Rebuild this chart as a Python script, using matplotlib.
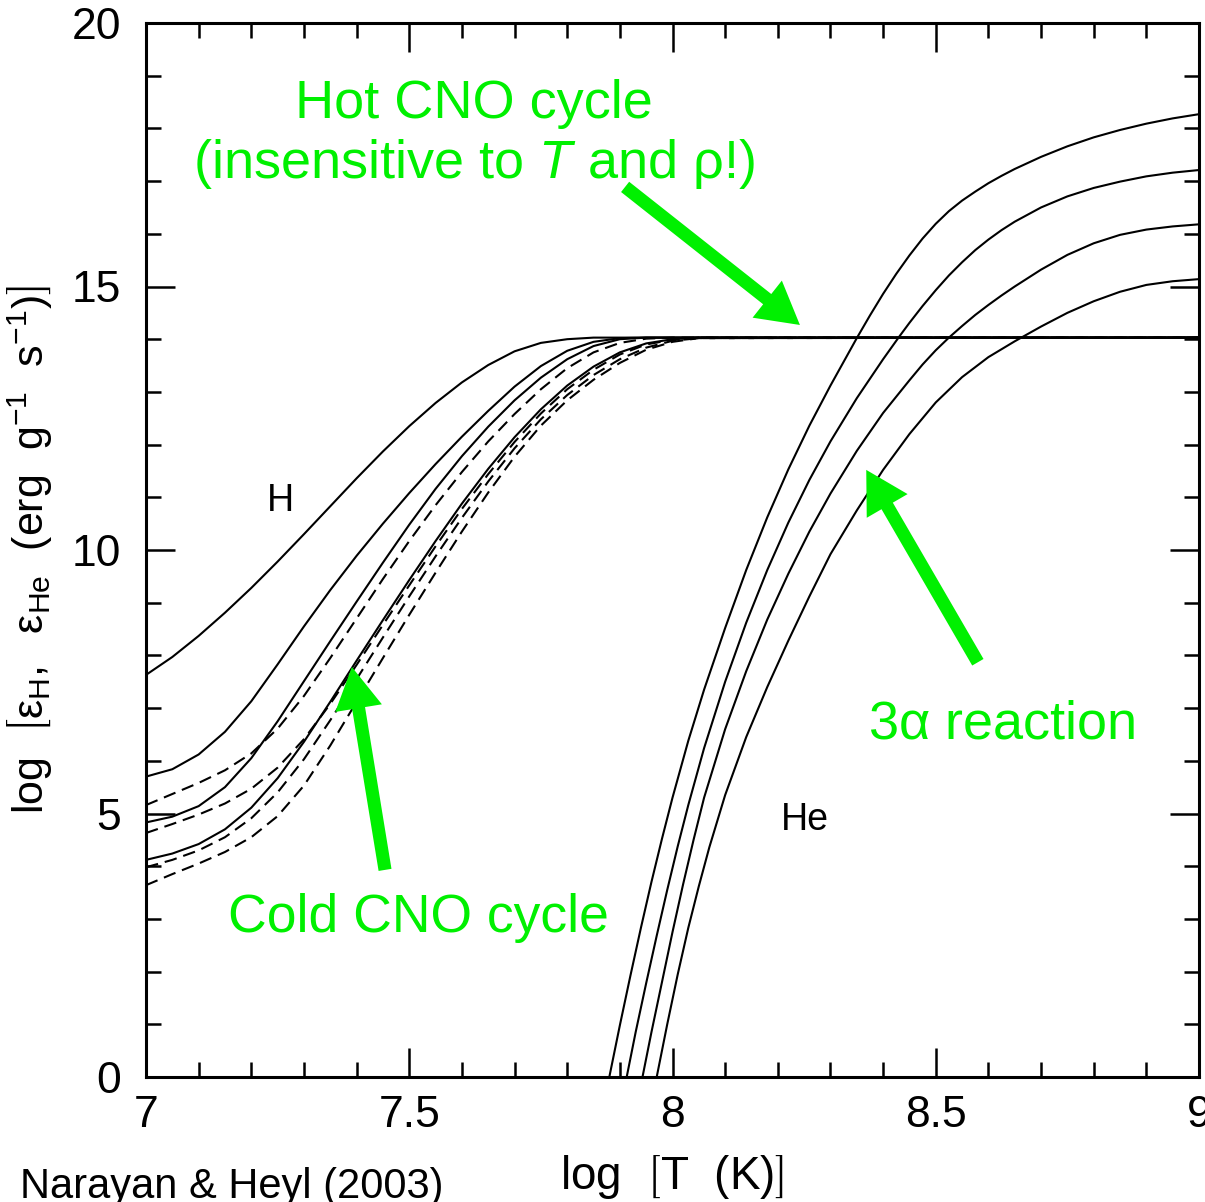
import matplotlib
matplotlib.use("Agg")
import matplotlib.pyplot as plt
from matplotlib.ticker import MultipleLocator, FixedLocator, FixedFormatter

plt.rcParams["font.family"] = ["Liberation Sans", "DejaVu Sans"]
plt.rcParams["mathtext.fontset"] = "custom"
plt.rcParams["mathtext.rm"] = "Liberation Sans"
plt.rcParams["mathtext.it"] = "Liberation Sans:italic"
plt.rcParams["mathtext.bf"] = "Liberation Sans:bold"
plt.rcParams["mathtext.fallback"] = "stixsans"
plt.rcParams["lines.scale_dashes"] = False

# ---------------- hydrogen burning rates (log eps_H) ----------------
H_LOGT = [7.00, 7.05, 7.10, 7.15, 7.20, 7.25, 7.30, 7.35, 7.40, 7.45, 7.50,
          7.55, 7.60, 7.65, 7.70, 7.75, 7.80, 7.85, 7.90, 7.95, 8.00, 8.05, 9.00]

H_SOLID_1 = [7.63, 7.97, 8.37, 8.81, 9.28, 9.78, 10.30, 10.83, 11.36, 11.87, 12.35,
             12.79, 13.18, 13.51, 13.77, 13.93, 14.00, 14.03, 14.03, 14.03, 14.03, 14.03, 14.03]
H_SOLID_2 = [5.70, 5.84, 6.12, 6.55, 7.13, 7.83, 8.55, 9.24, 9.89, 10.50, 11.08,
             11.63, 12.15, 12.64, 13.10, 13.49, 13.78, 13.95, 14.02, 14.03, 14.03, 14.03, 14.03]
H_SOLID_3 = [4.83, 4.94, 5.14, 5.50, 6.05, 6.75, 7.51, 8.27, 9.02, 9.76, 10.48,
             11.16, 11.78, 12.34, 12.84, 13.27, 13.62, 13.87, 14.00, 14.03, 14.03, 14.03, 14.03]
H_SOLID_4 = [4.12, 4.24, 4.42, 4.70, 5.11, 5.67, 6.36, 7.12, 7.90, 8.67, 9.43,
             10.17, 10.88, 11.54, 12.14, 12.67, 13.12, 13.48, 13.75, 13.92, 14.00, 14.03, 14.03]

H_DASHED_1 = [5.16, 5.37, 5.58, 5.82, 6.14, 6.61, 7.23, 7.95, 8.70, 9.45, 10.17,
              10.85, 11.48, 12.06, 12.58, 13.05, 13.45, 13.75, 13.93, 14.01, 14.03, 14.03, 14.03]
H_DASHED_2 = [4.63, 4.80, 4.98, 5.19, 5.47, 5.87, 6.41, 7.08, 7.82, 8.58, 9.33,
              10.07, 10.78, 11.44, 12.05, 12.59, 13.05, 13.42, 13.71, 13.90, 13.99, 14.03, 14.03]
H_DASHED_3 = [3.98, 4.12, 4.30, 4.55, 4.91, 5.40, 6.03, 6.77, 7.55, 8.34, 9.12,
              9.88, 10.61, 11.30, 11.93, 12.48, 12.94, 13.32, 13.62, 13.84, 13.97, 14.02, 14.03]
H_DASHED_4 = [3.64, 3.85, 4.05, 4.27, 4.55, 4.95, 5.53, 6.29, 7.12, 7.95, 8.77,
              9.57, 10.35, 11.09, 11.77, 12.36, 12.84, 13.23, 13.55, 13.80, 13.95, 14.02, 14.03]

# ---------------- helium (triple-alpha) burning rates (log eps_He) ----------------
HE1_LOGT = [7.87, 7.88, 7.90, 7.92, 7.94, 7.96, 7.98, 8.00, 8.03, 8.06, 8.10, 8.14,
            8.18, 8.22, 8.26, 8.30, 8.35, 8.375, 8.40, 8.425, 8.45, 8.475, 8.50,
            8.525, 8.55, 8.575, 8.60, 8.625, 8.65, 8.70, 8.75, 8.80, 8.85, 8.90,
            8.95, 9.00]
HE1_EPS = [-0.45, 0.0, 0.98, 1.92, 2.83, 3.70, 4.52, 5.30, 6.38, 7.35, 8.52, 9.62,
           10.62, 11.53, 12.36, 13.12, 14.02, 14.45, 14.86, 15.24, 15.59, 15.91, 16.19,
           16.43, 16.63, 16.80, 16.96, 17.10, 17.23, 17.46, 17.66, 17.83, 17.97, 18.09,
           18.19, 18.27]

HE2_LOGT = [7.903, 7.913, 7.93, 7.95, 7.97, 7.99, 8.01, 8.03, 8.06, 8.10, 8.14,
            8.18, 8.22, 8.26, 8.30, 8.35, 8.40, 8.43, 8.45, 8.475, 8.50, 8.525,
            8.55, 8.575, 8.60, 8.625, 8.65, 8.70, 8.75, 8.80, 8.85, 8.90, 8.95, 9.00]
HE2_EPS = [-0.45, 0.0, 0.85, 1.78, 2.68, 3.55, 4.38, 5.16, 6.24, 7.50, 8.62,
           9.62, 10.52, 11.33, 12.06, 12.88, 13.62, 14.04, 14.31, 14.63, 14.93, 15.21,
           15.46, 15.69, 15.89, 16.07, 16.23, 16.50, 16.71, 16.87, 16.99, 17.09, 17.16, 17.21]

HE3_LOGT = [7.933, 7.943, 7.96, 7.98, 8.00, 8.02, 8.04, 8.06, 8.10, 8.14, 8.18,
            8.22, 8.26, 8.30, 8.35, 8.40, 8.45, 8.475, 8.50, 8.525, 8.55, 8.575,
            8.60, 8.625, 8.65, 8.70, 8.75, 8.80, 8.85, 8.90, 8.95, 9.00]
HE3_EPS = [-0.45, 0.0, 0.85, 1.80, 2.75, 3.65, 4.50, 5.30, 6.60, 7.70, 8.68,
           9.55, 10.35, 11.07, 11.88, 12.60, 13.22, 13.52, 13.79, 14.03, 14.25, 14.46,
           14.65, 14.83, 15.00, 15.32, 15.60, 15.82, 15.98, 16.08, 16.14, 16.18]

HE4_LOGT = [7.96, 7.97, 7.99, 8.01, 8.03, 8.05, 8.07, 8.10, 8.14, 8.18, 8.22,
            8.26, 8.30, 8.35, 8.40, 8.45, 8.50, 8.55, 8.60, 8.65, 8.70, 8.75,
            8.80, 8.85, 8.90, 8.95, 9.00]
HE4_EPS = [-0.45, 0.0, 1.00, 1.95, 2.83, 3.62, 4.36, 5.35, 6.45, 7.40, 8.28,
           9.12, 9.92, 10.75, 11.52, 12.20, 12.80, 13.28, 13.66, 13.96, 14.24, 14.50,
           14.72, 14.90, 15.03, 15.10, 15.14]

X_TICKS = [7, 7.5, 8, 8.5, 9]
X_TICK_LABELS = ["7", "7.5", "8", "8.5", "9"]
Y_TICKS = [0, 5, 10, 15, 20]
Y_TICK_LABELS = ["0", "5", "10", "15", "20"]

GREEN = "#00f000"
LW = 1.5

fig = plt.figure(figsize=(12.05, 12.02), dpi=100)
ax = fig.add_axes([146 / 1205, 1 - 1077 / 1202, (1199 - 146) / 1205, (1077 - 23) / 1202])

for eps in (H_SOLID_1, H_SOLID_2, H_SOLID_3, H_SOLID_4):
    ax.plot(H_LOGT, eps, color="black", lw=LW, solid_joinstyle="round")
for eps in (H_DASHED_1, H_DASHED_2, H_DASHED_3, H_DASHED_4):
    ax.plot(H_LOGT, eps, color="black", lw=LW, dashes=(9, 5))

for logt, eps in ((HE1_LOGT, HE1_EPS), (HE2_LOGT, HE2_EPS),
                  (HE3_LOGT, HE3_EPS), (HE4_LOGT, HE4_EPS)):
    ax.plot(logt, eps, color="black", lw=LW, solid_joinstyle="round")

ax.set_xlim(7, 9)
ax.set_ylim(0, 20)

ax.xaxis.set_major_locator(FixedLocator(X_TICKS))
ax.xaxis.set_major_formatter(FixedFormatter(X_TICK_LABELS))
ax.xaxis.set_minor_locator(MultipleLocator(0.1))
ax.yaxis.set_major_locator(FixedLocator(Y_TICKS))
ax.yaxis.set_major_formatter(FixedFormatter(Y_TICK_LABELS))
ax.yaxis.set_minor_locator(MultipleLocator(1))

ax.tick_params(which="both", direction="in", top=True, right=True, width=1.8,
               labelsize=32, colors="black")
ax.tick_params(which="major", length=21)
ax.tick_params(which="minor", length=11)
ax.tick_params(axis="x", which="major", pad=13)
ax.tick_params(axis="y", which="major", pad=18)
for sp in ax.spines.values():
    sp.set_linewidth(2.2)

ax.set_xlabel(r"log  $\left[\mathrm{T\ \ (K)}\right]$", fontsize=33, labelpad=12)
ax.set_ylabel(r"log  $\left[\mathrm{\varepsilon_{H},\ \ \varepsilon_{He}\ \ "
              r"(erg\ \ g^{-1}\ \ s^{-1})}\right]$", fontsize=31, labelpad=12)

ax.text(7.255, 10.74, "H", fontsize=27, ha="center", va="baseline")
ax.text(8.252, 4.69, "He", fontsize=27, ha="center", va="baseline")

# annotations
ax.text(7.623, 18.20, "Hot CNO cycle", color=GREEN, fontsize=39,
        ha="center", va="baseline")
ax.text(7.623, 17.06, r"(insensitive to $\mathit{T}$ and $\mathrm{\rho}$!)", color=GREEN,
        fontsize=39, ha="center", va="baseline")
ax.text(7.517, 2.75, "Cold CNO cycle", color=GREEN, fontsize=38.5,
        ha="center", va="baseline")
ax.text(8.626, 6.43, r"3$\mathrm{\alpha}$ reaction", color=GREEN, fontsize=39,
        ha="center", va="baseline")

arrow_kw = dict(arrowstyle="simple,head_length=1.5,head_width=1.7,tail_width=0.47",
                color=GREEN, mutation_scale=20, shrinkA=0, shrinkB=0, lw=0)
ax.annotate("", xy=(8.242, 14.27), xytext=(7.910, 16.89), arrowprops=arrow_kw,
            annotation_clip=False)
ax.annotate("", xy=(7.391, 7.78), xytext=(7.454, 3.93), arrowprops=arrow_kw,
            annotation_clip=False)
ax.annotate("", xy=(8.368, 11.52), xytext=(8.580, 7.87), arrowprops=arrow_kw,
            annotation_clip=False)

fig.text(20 / 1205, 4 / 1202, "Narayan & Heyl (2003)", fontsize=30,
         ha="left", va="baseline")

fig.savefig("out.png", dpi=100)
